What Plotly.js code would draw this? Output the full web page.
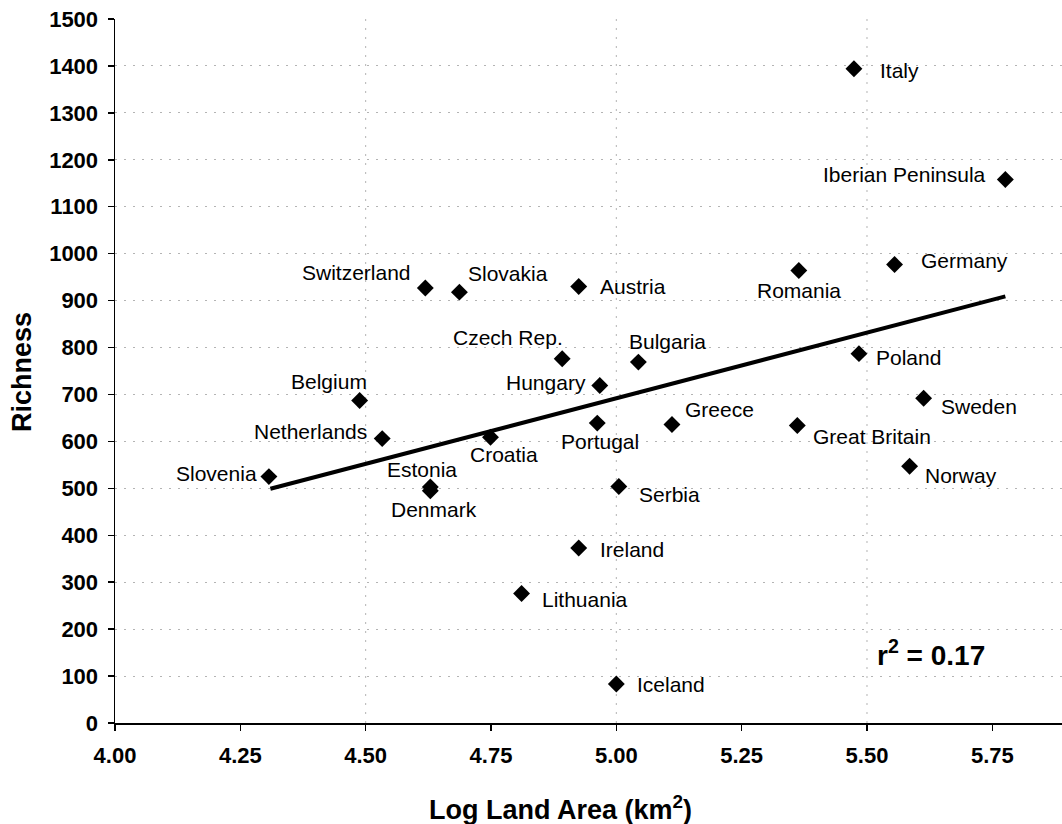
<!DOCTYPE html>
<html>
<head>
<meta charset="utf-8">
<script src="https://cdn.plot.ly/plotly-3.0.1.min.js"></script>
<style>html,body{margin:0;padding:0;background:#fff;}#chart{width:1062px;height:824px;}</style>
</head>
<body>
<div id="chart"></div>
<script>
// ---- Data ----
const countries = ["Slovenia","Belgium","Netherlands","Switzerland","Slovakia","Estonia","Denmark","Croatia","Lithuania","Czech Rep.","Hungary","Portugal","Austria","Ireland","Iceland","Serbia","Bulgaria","Greece","Romania","Great Britain","Italy","Poland","Germany","Norway","Sweden","Iberian Peninsula"];
const logArea = [4.307,4.488,4.533,4.619,4.687,4.629,4.629,4.749,4.811,4.892,4.967,4.962,4.925,4.925,5.000,5.005,5.044,5.111,5.364,5.361,5.474,5.484,5.555,5.585,5.613,5.776];
const richness = [525,687,606,927,918,503,495,609,276,776,719,639,930,373,83,504,769,636,964,634,1394,787,977,547,692,1158];
const trendX = [4.310, 5.776];
const trendY = [499, 909];
const rSquared = "0.17";
const xTickVals = [4.00,4.25,4.50,4.75,5.00,5.25,5.50,5.75];
const yTickVals = [0,100,200,300,400,500,600,700,800,900,1000,1100,1200,1300,1400,1500];
const xGridVals = [4.5,5.0,5.5];

// ---- Label placement (style): [xanchor, xshift, yshift] ----
const labelPlacement = {
  "Slovenia":["right",-10,3],
  "Belgium":["right",9,19],
  "Netherlands":["right",-13,7],
  "Switzerland":["right",-12,15],
  "Slovakia":["left",7,19],
  "Estonia":["center",-8,17],
  "Denmark":["center",4,-19],
  "Croatia":["center",14,-17],
  "Lithuania":["left",18,-6],
  "Czech Rep.":["right",3,21],
  "Hungary":["right",-12,3],
  "Portugal":["center",3,-18],
  "Austria":["left",19,0],
  "Ireland":["left",19,-2],
  "Iceland":["left",19,0],
  "Serbia":["left",18,-8],
  "Bulgaria":["left",-11,21],
  "Greece":["left",11,15],
  "Romania":["center",0,-20],
  "Great Britain":["left",14,-11],
  "Italy":["left",24,-2],
  "Poland":["left",15,-4],
  "Germany":["left",24,4],
  "Norway":["left",13,-9],
  "Sweden":["left",15,-8],
  "Iberian Peninsula":["right",-17,5]
};

const FONT = "'Liberation Sans', Arial, Helvetica, sans-serif";

const pts = {
  type: "scatter", mode: "markers",
  x: logArea, y: richness,
  marker: {symbol: "diamond", size: 13, color: "#000"},
  hoverinfo: "skip", showlegend: false, cliponaxis: false
};
const trend = {
  type: "scatter", mode: "lines",
  x: trendX, y: trendY,
  line: {color: "#000", width: 4},
  hoverinfo: "skip", showlegend: false
};

const annotations = countries.map((c, i) => {
  const p = labelPlacement[c];
  return {
    x: logArea[i], y: richness[i], xref: "x", yref: "y",
    text: c, showarrow: false,
    xanchor: p[0], yanchor: "middle", xshift: p[1], yshift: p[2],
    font: {family: FONT, size: 21, color: "#000"}
  };
});
annotations.push({
  x: 931, y: 824 - 653, xref: "paper", yref: "paper",
  text: "r<sup>2</sup> = " + rSquared, showarrow: false,
  xanchor: "center", yanchor: "middle",
  font: {family: FONT, size: 28, color: "#000", weight: 700}
});
annotations.push({
  x: 560, y: 824 - 808, xref: "paper", yref: "paper",
  text: "Log Land Area (km<sup>2</sup>)", showarrow: false,
  xanchor: "center", yanchor: "middle",
  font: {family: FONT, size: 27, color: "#000", weight: 700}
});
annotations.push({
  x: 22, y: 824 - 372, xref: "paper", yref: "paper",
  text: "Richness", showarrow: false, textangle: -90,
  xanchor: "center", yanchor: "middle",
  font: {family: FONT, size: 27, color: "#000", weight: 700}
});
// convert pixel-placed paper annotations
const L = 115, T = 19, B = 101, R = 0, W = 1062, H = 824;
const pw = W - L - R, ph = H - T - B;
annotations.forEach(a => {
  if (a.xref === "paper") {
    a.x = (a.x - L) / pw;
    a.y = (a.y - B) / ph;
  }
});

const GRID = "#b4b4b4";
const shapes = xGridVals.map(v => ({
  type: "line", xref: "x", yref: "paper", x0: v, x1: v, y0: 0, y1: 1,
  line: {color: GRID, width: 1, dash: "2px,7px"}, layer: "below"
}));

const layout = {
  width: W, height: H,
  margin: {l: L, r: R, t: T, b: B, pad: 0},
  paper_bgcolor: "#fff", plot_bgcolor: "#fff",
  font: {family: FONT, color: "#000"},
  xaxis: {
    range: [4, 5.889], tickvals: xTickVals, ticktext: xTickVals.map(v => v.toFixed(2)),
    showgrid: false, zeroline: false, showline: true, linecolor: "#000", linewidth: 1.5,
    ticks: "outside", ticklen: 6, tickcolor: "#000", tickwidth: 1.5,
    ticklabelstandoff: 6,
    tickfont: {family: FONT, size: 22, color: "#000", weight: 700}
  },
  yaxis: {
    range: [0, 1500], tickvals: yTickVals,
    showgrid: true, gridcolor: GRID, griddash: "2px,7px", gridwidth: 1,
    zeroline: false, showline: true, linecolor: "#000", linewidth: 1.5,
    ticks: "outside", ticklen: 6, tickcolor: "#000", tickwidth: 1.5,
    ticklabelstandoff: 5,
    tickfont: {family: FONT, size: 22, color: "#000", weight: 700}
  },
  shapes: shapes,
  annotations: annotations,
  showlegend: false
};

Plotly.newPlot("chart", [trend, pts], layout, {displayModeBar: false, staticPlot: true});
</script>
</body>
</html>
